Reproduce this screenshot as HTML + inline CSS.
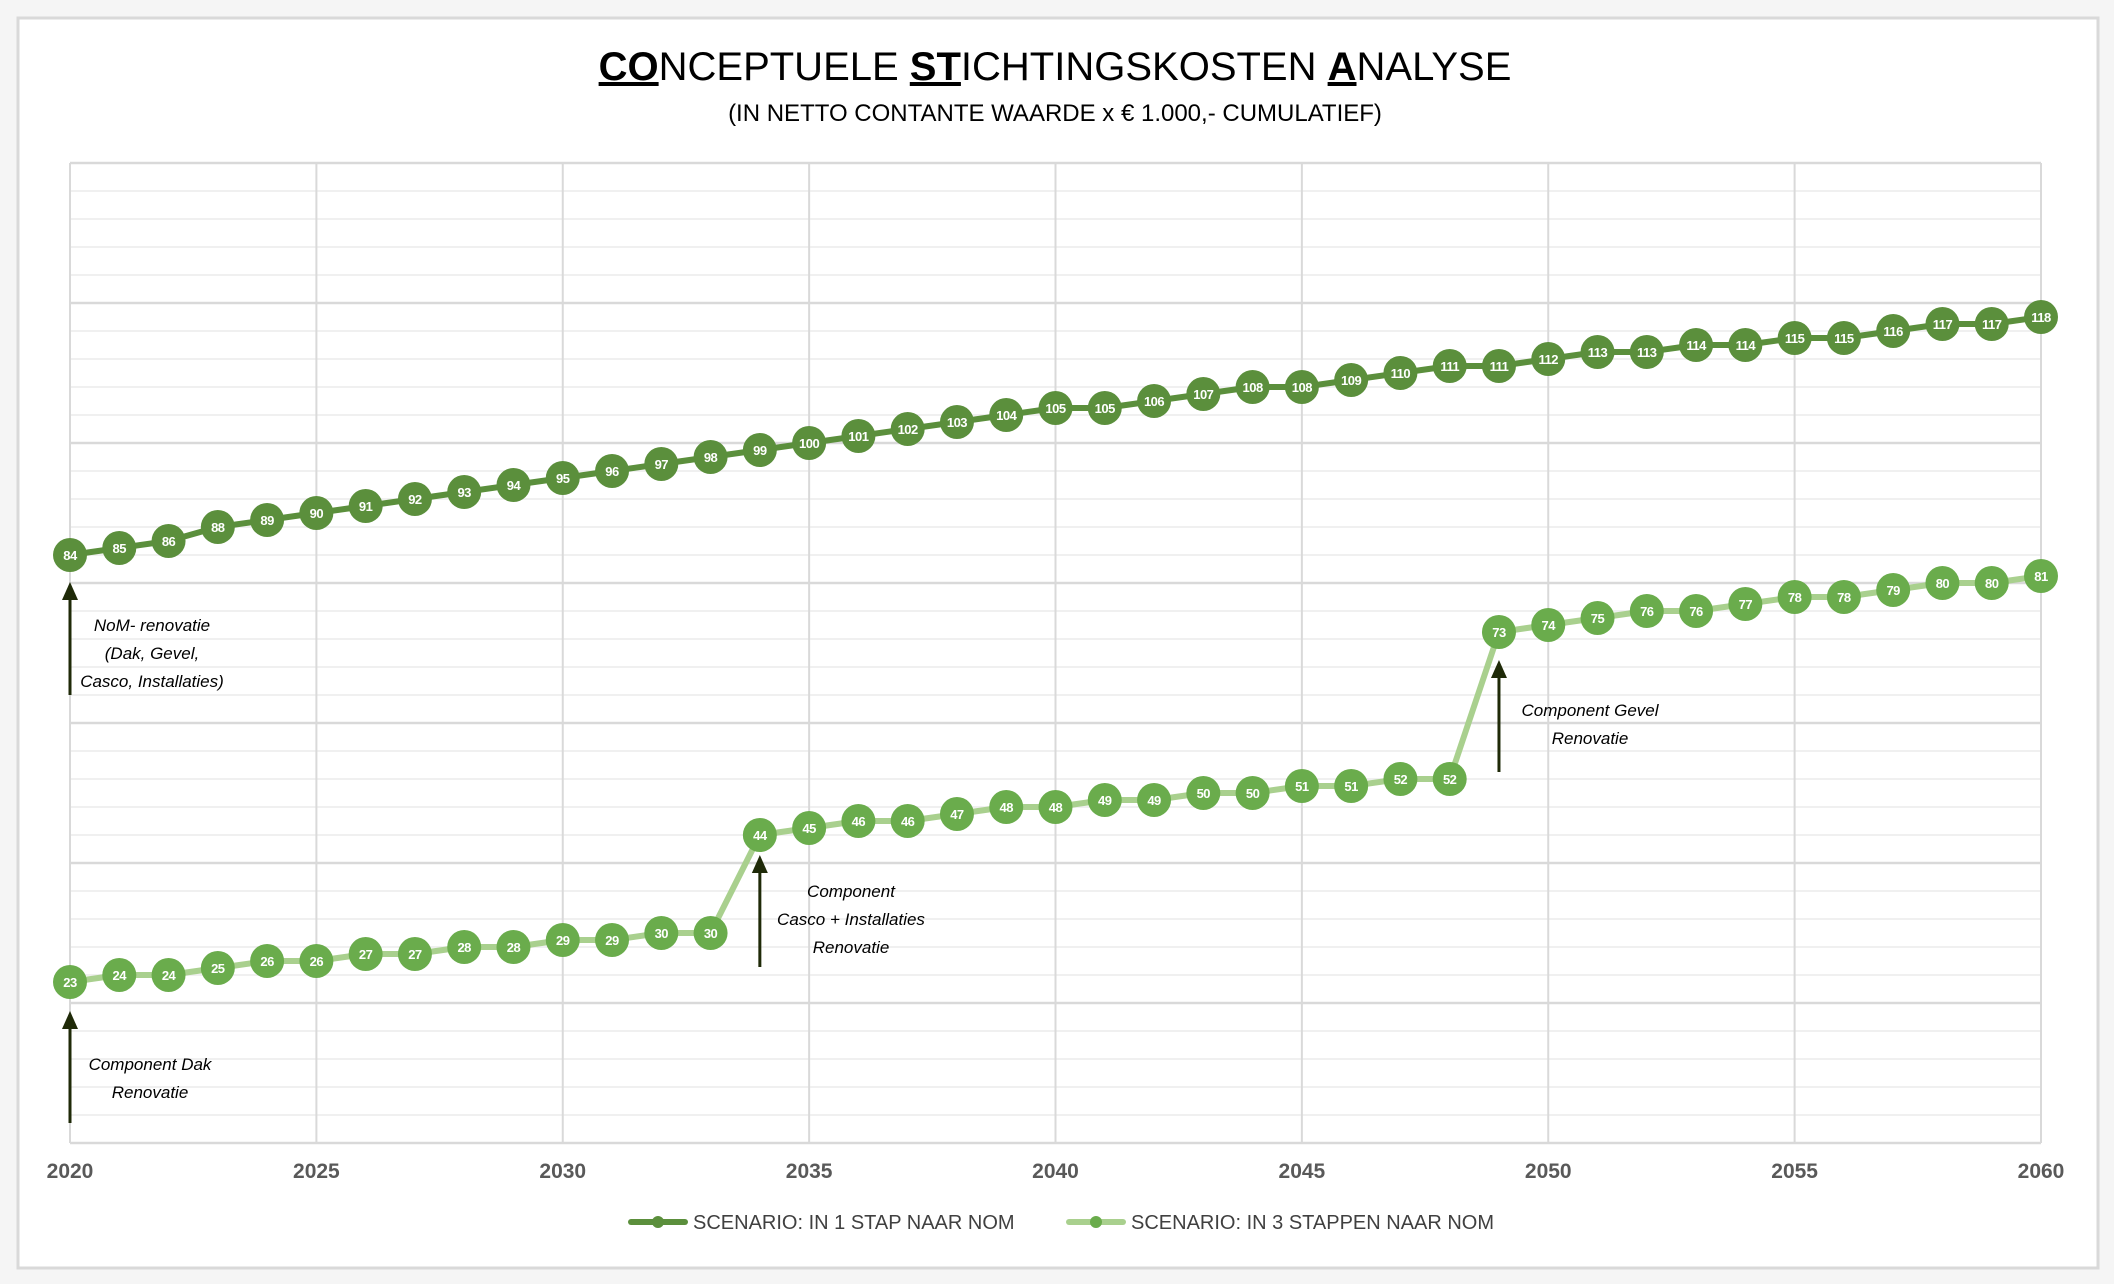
<!DOCTYPE html>
<html><head><meta charset="utf-8"><style>
html,body{margin:0;padding:0;background:#f5f5f5;}
svg{display:block;font-family:"Liberation Sans",sans-serif;}
</style></head><body>
<svg id="chart" width="2114" height="1284" viewBox="0 0 2114 1284">
<rect x="0" y="0" width="2114" height="1284" fill="#f5f5f5"/>
<rect x="18" y="18" width="2080" height="1250" fill="#fff" stroke="#d9d9d9" stroke-width="3"/>
<text x="1055" y="80" text-anchor="middle" font-size="40" fill="#000"><tspan font-weight="bold" text-decoration="underline">CO</tspan>NCEPTUELE <tspan font-weight="bold" text-decoration="underline">ST</tspan>ICHTINGSKOSTEN <tspan font-weight="bold" text-decoration="underline">A</tspan>NALYSE</text>
<text x="1055" y="121" text-anchor="middle" font-size="24" fill="#000">(IN NETTO CONTANTE WAARDE x € 1.000,- CUMULATIEF)</text>
<g id="grid"></g>
<g id="annotations"></g>
<g id="series"></g>
<g id="xaxis"></g>
<g id="legend"></g>
</svg>
<script>
const years = [];
for (let y = 2020; y <= 2060; y++) years.push(y);
const series1Values = [84,85,86,88,89,90,91,92,93,94,95,96,97,98,99,100,101,102,103,104,105,105,106,107,108,108,109,110,111,111,112,113,113,114,114,115,115,116,117,117,118];
const series2Values = [23,24,24,25,26,26,27,27,28,28,29,29,30,30,44,45,46,46,47,48,48,49,49,50,50,51,51,52,52,73,74,75,76,76,77,78,78,79,80,80,81];
const xTickLabels = [2020,2025,2030,2035,2040,2045,2050,2055,2060];
const seriesNames = ["SCENARIO: IN 1 STAP NAAR NOM","SCENARIO: IN 3 STAPPEN NAAR NOM"];

const NS = "http://www.w3.org/2000/svg";
const X0 = 70, X1 = 2041, Y0 = 1143, Y1 = 163, YMAX = 140;
const xs = y => X0 + (y - 2020) / 40 * (X1 - X0);
const ys = v => Y0 - v / YMAX * (Y0 - Y1);
function mk(tag, attrs, parent) {
  const e = document.createElementNS(NS, tag);
  for (const k in attrs) e.setAttribute(k, attrs[k]);
  parent.appendChild(e);
  return e;
}
const grid = document.getElementById('grid');
for (let v = 0; v <= YMAX; v += 4) {
  const major = v % 20 === 0;
  const l = mk('line', {x1: X0, x2: X1, y1: ys(v), y2: ys(v), stroke: major ? '#d9d9d9' : '#f0f0f0', 'stroke-width': major ? 2.5 : 2}, grid);
  
  
}
const xa = document.getElementById('xaxis');
xTickLabels.forEach(t => {
  const l = mk('line', {x1: xs(t), x2: xs(t), y1: Y1, y2: Y0, stroke: '#d9d9d9', 'stroke-width': 2}, grid);
  
  
  const tx = mk('text', {x: xs(t), y: Y0 + 35, 'text-anchor': 'middle', 'font-size': 21, 'font-weight': 'bold', fill: '#595959'}, xa);
  tx.textContent = t;
  
  
});

const ann = document.getElementById('annotations');
function arrow(year, yBottom, yTop, lines, tx, ty) {
  const g = mk('g', {}, ann);
  
  
  const x = xs(year);
  mk('line', {x1: x, x2: x, y1: yBottom, y2: yTop + 16, stroke: '#1f2a08', 'stroke-width': 3}, g);
  mk('polygon', {points: `${x-8},${yTop+18} ${x+8},${yTop+18} ${x},${yTop}`, fill: '#1f2a08'}, g);
  lines.forEach((s, i) => {
    const t = mk('text', {x: tx, y: ty + i * 28, 'text-anchor': 'middle', 'font-size': 17, 'font-style': 'italic', fill: '#000'}, g);
    t.textContent = s;
  });
}
arrow(2020, 695, 582, ["NoM- renovatie","(Dak, Gevel,","Casco, Installaties)"], 152, 631);
arrow(2020, 1123, 1011, ["Component Dak","Renovatie"], 150, 1070);
arrow(2034, 967, 855, ["Component","Casco + Installaties","Renovatie"], 851, 897);
arrow(2049, 772, 660, ["Component Gevel","Renovatie"], 1590, 716);

const sg = document.getElementById('series');
function drawSeries(vals, lineColor, markerColor, name) {
  const g = mk('g', {}, sg);
  
  
  const pts = vals.map((v, i) => xs(years[i]) + ',' + ys(v)).join(' ');
  const pl = mk('polyline', {points: pts, fill: 'none', stroke: lineColor, 'stroke-width': 6, 'stroke-linejoin': 'round'}, g);
  
  
  vals.forEach((v, i) => {
    const c = mk('circle', {cx: xs(years[i]), cy: ys(v), r: 17, fill: markerColor}, g);
    
    
    const t = mk('text', {x: xs(years[i]), y: ys(v) + 5, 'text-anchor': 'middle', 'font-size': 13, 'font-weight': 'bold', fill: '#fff', 'letter-spacing': '-0.5'}, g);
    t.textContent = v;
    
    
  });
}
drawSeries(series2Values, '#a9d08e', '#6aac4c', 'series-3-stappen');
drawSeries(series1Values, '#5b8f3c', '#5b8f3c', 'series-1-stap');

const lg = document.getElementById('legend');
[[631, '#5b8f3c', '#5b8f3c'], [1069, '#a9d08e', '#6aac4c']].forEach((d, i) => {
  const g = mk('g', {}, lg);
  
  
  mk('line', {x1: d[0], x2: d[0] + 54, y1: 1222, y2: 1222, stroke: d[1], 'stroke-width': 6, 'stroke-linecap': 'round'}, g);
  mk('circle', {cx: d[0] + 27, cy: 1222, r: 6, fill: d[2]}, g);
  const t = mk('text', {x: d[0] + 62, y: 1229, 'font-size': 20, fill: '#404040'}, g);
  t.textContent = seriesNames[i];
});
</script>
</body></html>
